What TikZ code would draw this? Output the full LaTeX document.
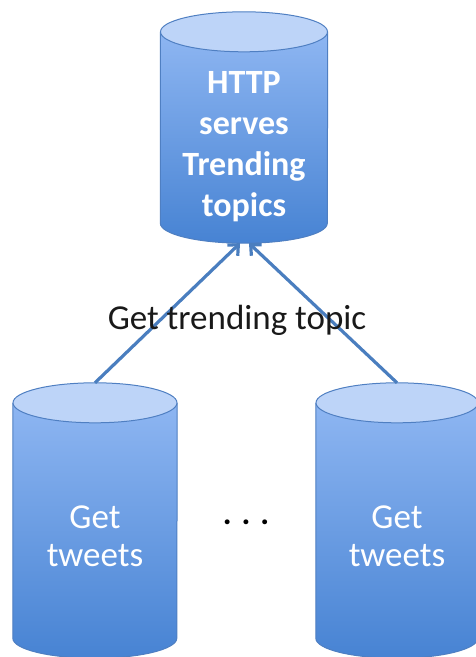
\documentclass[tikz,border=0pt]{standalone}
\usepackage{fontspec}
\setmainfont{Carlito}
\usetikzlibrary{arrows.meta,backgrounds}
\definecolor{cyltop}{HTML}{8EB6F2}
\definecolor{cylbot}{HTML}{4783D3}
\definecolor{capfill}{HTML}{BDD4F8}
\definecolor{rimline}{HTML}{4F7FC2}
\definecolor{arrowblue}{HTML}{4A7EBF}
\begin{document}
\begin{tikzpicture}[x=1pt,y=-1pt,
	cyl/.style={inner sep=0pt},
	body/.style={top color=cyltop,bottom color=cylbot},
	rim/.style={draw=rimline,line width=1pt},
	toptext/.style={text=white,align=center,font=\bfseries\fontsize{34}{41}\selectfont},
	feedtext/.style={text=white,align=center,font=\fontsize{35}{38}\selectfont},
	fetch/.style={draw=arrowblue,line width=3.2pt,-{Straight Barb[length=8pt,width=15pt]}}]
	\useasboundingbox (0,0) rectangle (475,657);
	\node[cyl,minimum width=167pt,minimum height=231pt] (serve) at (244,127.5) {};
	\node[cyl,minimum width=164pt,minimum height=275pt] (feedl) at (95,520.5) {};
	\node[cyl,minimum width=162pt,minimum height=275pt] (feedr) at (397,520.5) {};
	\begin{scope}[on background layer]
	\foreach \c/\r in {serve/83.5,feedl/82,feedr/81} {
		\shade[body] ([yshift=-20pt]\c.north west) -- ([yshift=20pt]\c.south west) arc[start angle=180,end angle=360,x radius=\r pt,y radius=20pt] -- ([yshift=-20pt]\c.north east) -- cycle;
		\draw[rim] ([yshift=-20pt]\c.north west) -- ([yshift=20pt]\c.south west) arc[start angle=180,end angle=360,x radius=\r pt,y radius=20pt] -- ([yshift=-20pt]\c.north east);
		\filldraw[rim,fill=capfill] ([yshift=-20pt]\c.north) ellipse[x radius=\r pt,y radius=20pt];
	}
	\end{scope}
	\node[toptext] (servelbl) at (244,147) {HTTP\\serves\\Trending\\topics};
	\node[feedtext] (feedllbl) at (95,536) {Get\\tweets};
	\node[feedtext] (feedrlbl) at (397,536) {Get\\tweets};
	\node[font=\bfseries\fontsize{33}{40}\selectfont] (dots) at (246,522) {. . .};
	\draw[fetch] (feedl.north) -- ([xshift=-4pt]serve.south);
	\draw[fetch] (feedr.north) -- ([xshift=5pt]serve.south);
	\node[font=\fontsize{35}{40}\selectfont,text=black!90] (topiclbl) at (237,320) {Get trending topic};
\end{tikzpicture}
\end{document}
